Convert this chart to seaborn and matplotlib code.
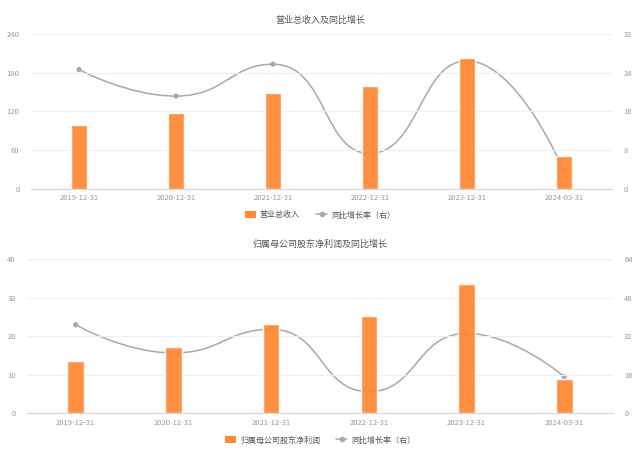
import numpy as np
import pandas as pd
import matplotlib
matplotlib.use("Agg")
import matplotlib.pyplot as plt
from matplotlib.path import Path
from matplotlib.patches import PathPatch, Patch
from matplotlib.lines import Line2D
import seaborn as sns

sns.set_theme(style="white")
plt.rcParams['font.family'] = ['Noto Sans CJK SC', 'DejaVu Sans']

dates = ["2019-12-31", "2020-12-31", "2021-12-31", "2022-12-31", "2023-12-31", "2024-03-31"]

revenue = [99.0, 118.2, 148.8, 160.2, 202.7, 50.8]
revenue_yoy = [24.7, 19.2, 25.8, 7.3, 26.5, 3.7]

profit = [13.7, 17.1, 23.2, 25.2, 33.5, 9.0]
profit_yoy = [36.8, 25.1, 34.9, 9.0, 33.2, 15.2]

titles = ["营业总收入及同比增长", "归属母公司股东净利润及同比增长"]
bar_labels = ["营业总收入", "归属母公司股东净利润"]
line_label = "同比增长率（右）"

left_ticks = [[0, 60, 120, 180, 240], [0, 10, 20, 30, 40]]
right_ticks = [[0, 8, 16, 24, 32], [0, 16, 32, 48, 64]]

ORANGE = "#FF8833"
GREY_LINE = "#A8A8A8"
TICK_C = "#999999"
GRID_C = "#EFEFEF"

fig = plt.figure(figsize=(6.4, 4.53), dpi=100)


def smooth_path(xs, ys, sx, sy, smooth=0.5):
    """echarts-5 style smoothed bezier path, computed in pixel space."""
    pts = np.column_stack([np.asarray(xs, float) * sx, np.asarray(ys, float) * sy])
    n = len(pts)
    sc = np.array([sx, sy])
    verts = [tuple(pts[0] / sc)]
    codes = [Path.MOVETO]
    cp0 = pts[0].copy()
    for i in range(1, n):
        x, y = pts[i]
        px, py = pts[i - 1]
        if i == n - 1:
            cp1 = np.array([x, y])
            ncp0 = np.array([x, y])
        else:
            nx, ny = pts[i + 1]
            vx, vy = nx - px, ny - py
            lp = np.hypot(x - px, y - py)
            ln = np.hypot(nx - x, ny - y)
            r = ln / (ln + lp)
            ncx = x + vx * smooth * r
            ncy = y + vy * smooth * r
            ncx = min(ncx, max(nx, x)); ncy = min(ncy, max(ny, y))
            ncx = max(ncx, min(nx, x)); ncy = max(ncy, min(ny, y))
            vx, vy = ncx - x, ncy - y
            c1x = x - vx * lp / ln
            c1y = y - vy * lp / ln
            c1x = min(c1x, max(px, x)); c1y = min(c1y, max(py, y))
            c1x = max(c1x, min(px, x)); c1y = max(c1y, min(py, y))
            vx, vy = x - c1x, y - c1y
            ncx = x + vx * ln / lp
            ncy = y + vy * ln / lp
            cp1 = np.array([c1x, c1y])
            ncp0 = np.array([ncx, ncy])
        verts += [tuple(cp0 / sc), tuple(cp1 / sc), tuple(pts[i] / sc)]
        codes += [Path.CURVE4] * 3
        cp0 = ncp0
    return Path(verts, codes)


def draw(rect, bars, yoy, title, bar_label, lticks, rticks, title_y, legend_y, legend_x):
    ax = fig.add_axes(rect)
    ax2 = ax.twinx()
    ax.set_zorder(2)
    ax.patch.set_visible(False)
    ax2.set_zorder(1)

    df = pd.DataFrame({"date": dates, "value": bars})
    sns.barplot(data=df, x="date", y="value", ax=ax, color=ORANGE, width=0.17,
                saturation=1, alpha=0.93, zorder=3)
    ax.set_xlim(-0.5, len(dates) - 0.5)
    ax.set_ylim(lticks[0], lticks[-1])
    ax.set_yticks(lticks)
    ax.set_xlabel("")
    ax.set_ylabel("")

    xs = np.arange(len(dates))
    ax2.set_ylim(rticks[0], rticks[-1])
    ax2.set_yticks(rticks)
    w_px = rect[2] * 640
    h_px = rect[3] * 453
    sx = w_px / len(dates)
    sy = h_px / (rticks[-1] - rticks[0])
    ax2.add_patch(PathPatch(smooth_path(xs, yoy, sx, sy, 0.5), fill=False,
                            edgecolor=GREY_LINE, lw=1.1, zorder=2))
    dfl = pd.DataFrame({"x": xs, "yoy": yoy})
    sns.scatterplot(data=dfl, x="x", y="yoy", ax=ax2, color=GREY_LINE, s=14,
                    edgecolor="none", zorder=3, legend=False)
    ax2.set_xlim(-0.5, len(dates) - 0.5)
    ax2.set_xlabel("")
    ax2.set_ylabel("")

    for a in (ax, ax2):
        for sp in a.spines.values():
            sp.set_visible(False)
        a.tick_params(length=0, labelsize=5.5, colors=TICK_C, pad=3)
    ax.spines["bottom"].set_visible(True)
    ax.spines["bottom"].set_color("#D5D5D5")
    ax.spines["bottom"].set_linewidth(0.8)
    ax.yaxis.grid(True, color=GRID_C, lw=0.8)
    ax.set_axisbelow(True)
    ax.tick_params(axis="y", pad=8)
    ax2.tick_params(axis="y", pad=8)
    ax.tick_params(axis="x", pad=4)

    fig.text(0.5, title_y, title, ha="center", va="center", fontsize=6.5, color="#555555")

    handles = [Patch(facecolor=ORANGE, edgecolor="none"),
               Line2D([0], [0], color=GREY_LINE, lw=1.1, marker="o", markersize=3)]
    fig.legend(handles, [bar_label, line_label], loc="center", bbox_to_anchor=(legend_x, legend_y),
               ncol=2, frameon=False, fontsize=5.8, labelcolor="#555555",
               handlelength=1.4, handleheight=0.9, columnspacing=2.0, handletextpad=0.5)


draw([0.0477, 0.5835, 0.909, 0.3408], revenue, revenue_yoy, titles[0], bar_labels[0],
     left_ticks[0], right_ticks[0], 1 - 20 / 453, 1 - 215 / 453, 0.5)
draw([0.042, 0.0876, 0.916, 0.3400], profit, profit_yoy, titles[1], bar_labels[1],
     left_ticks[1], right_ticks[1], 1 - 244 / 453, 1 - 440 / 453, 0.5)

fig.savefig("out.png", dpi=100, facecolor="white")
